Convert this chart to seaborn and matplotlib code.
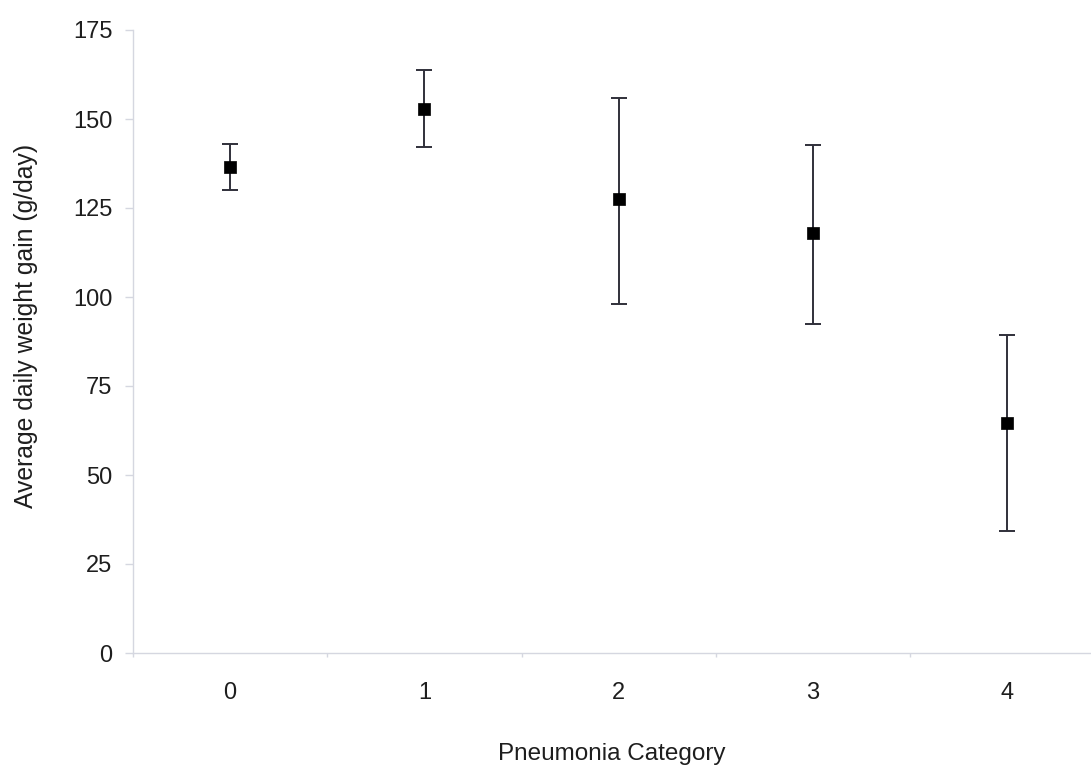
import numpy as np
import pandas as pd
import matplotlib.pyplot as plt
import seaborn as sns

# values
categories = [0, 1, 2, 3, 4]
adg_mean = [136.5, 152.8, 127.4, 117.9, 64.7]
adg_low = [130.0, 142.0, 98.0, 92.4, 34.2]
adg_high = [143.1, 163.9, 156.0, 142.6, 89.4]

df = pd.DataFrame({"cat": categories, "mean": adg_mean,
                   "low": adg_low, "high": adg_high})

sns.set_style("white")
plt.rcParams['font.family'] = ['Liberation Sans', 'DejaVu Sans']

fig = plt.figure(figsize=(10.91, 7.66), dpi=100)
ax = fig.add_axes([133 / 1091, 1 - 653 / 766, 1 - 133 / 1091, (653 - 30) / 766])

yerr = np.array([df["mean"] - df["low"], df["high"] - df["mean"]])
ax.errorbar(df["cat"], df["mean"], yerr=yerr, fmt="none", ecolor="#30303a",
            elinewidth=1.4, capsize=5.8, capthick=1.4, zorder=2)
sns.scatterplot(data=df, x="cat", y="mean", marker="s", s=72, color="black",
                edgecolor="black", linewidth=0.5, ax=ax, zorder=3)

ax.set_xlim(-0.5, 4.43)
ax.set_ylim(0, 175)
ax.set_yticks(np.arange(0, 176, 25))
ax.set_xticks(categories)
ax.set_xticks(np.arange(-0.5, 4.5, 1), minor=True)

axis_col = "#d5d7e0"
for side in ["top", "right"]:
    ax.spines[side].set_visible(False)
for side in ["left", "bottom"]:
    ax.spines[side].set_color(axis_col)
    ax.spines[side].set_linewidth(1.0)

txt_col = "#1e1e1e"
ax.tick_params(axis="y", which="major", left=True, length=5.8, width=1,
               color=axis_col, labelsize=17, labelcolor=txt_col, pad=9)
ax.tick_params(axis="x", which="major", bottom=False, length=0, labelsize=17,
               labelcolor=txt_col, pad=21)
ax.tick_params(axis="x", which="minor", bottom=True, length=3, width=1,
               color=axis_col)

ax.set_xlabel("Pneumonia Category", fontsize=17.5, color=txt_col)
ax.set_ylabel("Average daily weight gain (g/day)", fontsize=17.8, color=txt_col)
ax.xaxis.set_label_coords(0.5, -0.1445)
ax.yaxis.set_label_coords(-0.099, 0.525)

fig.savefig("out.png", dpi=100)
